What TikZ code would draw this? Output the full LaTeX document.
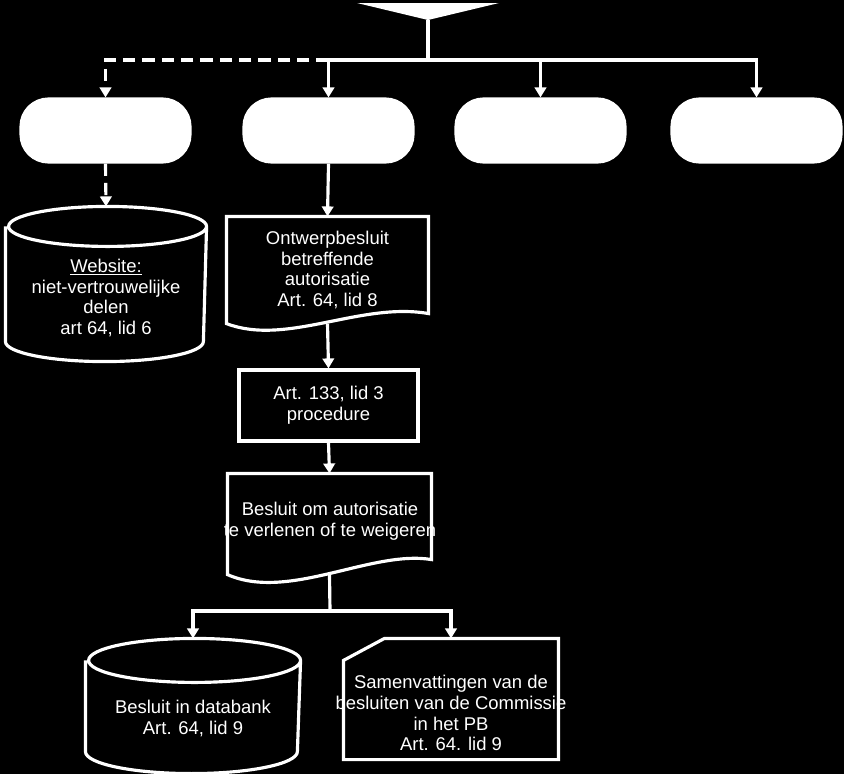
\documentclass[tikz,border=0pt]{standalone}
\usepackage{fontspec}
\setmainfont{Liberation Sans}
\usetikzlibrary{arrows.meta}

\begin{document}
\begin{tikzpicture}[x=0.02cm, y=-0.02cm, white, line width=1.8pt,
	every node/.style={font=\fontsize{10.5}{11.9}\selectfont, align=center, inner sep=0pt},
	>={Triangle[length=2mm, width=2.3mm]},
	pill/.style={draw, fill=white, rounded corners=0.55cm, minimum width=3.38cm, minimum height=1.26cm},
	procbox/.style={draw, minimum width=3.58cm, minimum height=1.42cm},
	dashy/.style={dash pattern=on 7pt off 4pt}]
	\useasboundingbox (0,0) rectangle (844,774);
	\fill[black] (0,0) rectangle (844,774);
	% merge at the top
	\coordinate (merge) at (428,20);
	\coordinate (split) at (428,60);
	\fill (357,3) -- (499,3) -- (merge) -- cycle;
	\draw (merge) -- (split);
	\foreach \i/\x in {1/105.5, 2/328.5, 3/540.5, 4/756.5} {\node[pill] (r\i) at (\x,130.5) {};}
	\foreach \i in {2,3,4} {\draw[->] (split) -| (r\i.north);}
	\draw[->, dashy] (r2.north |- split) -| (r1.north);
	
	% website
	\node[minimum width=3.96cm, minimum height=3.04cm] (web) at (106,284) {};
	\draw ([yshift=-0.4cm]web.north west) -- ([yshift=0.4cm]web.south west)
		arc[start angle=180, end angle=360, x radius=1.98cm, y radius=0.4cm]
		-- ([yshift=-0.4cm]web.north east)
		arc[start angle=0, end angle=180, x radius=1.98cm, y radius=0.4cm]
		arc[start angle=180, end angle=360, x radius=1.98cm, y radius=0.4cm];
	\node (webtxt) at (106,298) {\underline{Website:}\\niet-vertrouwelijke\\delen\\art 64, lid 6};
	\draw[->, dashy] (r1.south) -- (web.north);
	
	% main line
	\node[minimum width=3.98cm, minimum height=2.08cm] (doc1) at (327.5,270) {Ontwerpbesluit\\betreffende\\autorisatie\\Art. 64, lid 8};
	\draw (doc1.north west) -- (doc1.north east) -- ([yshift=0.2cm]doc1.south east)
		.. controls ([xshift=-1.36cm, yshift=0.44cm]doc1.south east) and ([xshift=1.2cm, yshift=-0.46cm]doc1.south west) .. (doc1.south west) -- cycle;
	\draw[->] (r2.south) -- (doc1.north);
	\node[procbox] (proc) at (328.5,405.5) {Art. 133, lid 3\\procedure};
	\draw[->] (doc1.south) -- (proc.north);
	\node[minimum width=4.02cm, minimum height=1.96cm] (doc2) at (329.5,524) {};
	\draw (doc2.north west) -- (doc2.north east) -- ([yshift=0.3cm]doc2.south east)
		.. controls ([xshift=-1.2cm, yshift=0.5cm]doc2.south east) and ([xshift=1.22cm, yshift=-0.54cm]doc2.south west) .. (doc2.south west) -- cycle;
	\node (doc2txt) at (330,521) {Besluit om autorisatie\\te verlenen of te weigeren};
	\draw[->] (proc.south) -- (doc2.north);
	
	% results
	\coordinate (fork) at (330,611);
	\node[minimum width=4.24cm, minimum height=2.64cm] (db) at (193,706) {};
	\draw ([yshift=-0.44cm]db.north west) -- ([yshift=0.44cm]db.south west)
		arc[start angle=180, end angle=360, x radius=2.12cm, y radius=0.44cm]
		-- ([yshift=-0.44cm]db.north east)
		arc[start angle=0, end angle=180, x radius=2.12cm, y radius=0.44cm]
		arc[start angle=180, end angle=360, x radius=2.12cm, y radius=0.44cm];
	\node (dbtxt) at (193,718.5) {Besluit in databank\\Art. 64, lid 9};
	\node[minimum width=4.24cm, minimum height=2.36cm] (card) at (451,699) {};
	\draw ([yshift=-0.44cm]card.north west) -- ([xshift=0.82cm]card.north west) -- (card.north east)
		-- (card.south east) -- (card.south west) -- cycle;
	\node (cardtxt) at (451,713) {Samenvattingen van de\\besluiten van de Commissie\\in het PB\\Art. 64. lid 9};
	\draw (doc2.south) -- (fork);
	\draw[->] (fork) -| (db.north);
	\draw[->] (fork) -| (card.north);
	
\end{tikzpicture}
\end{document}
